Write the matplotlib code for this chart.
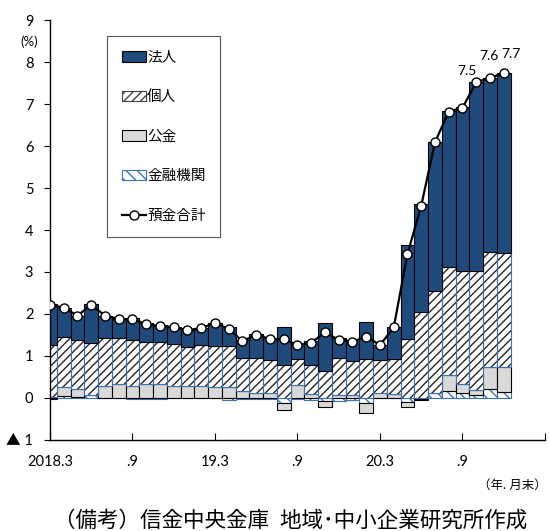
import numpy as np
import matplotlib.pyplot as plt
from matplotlib.patches import Patch
from matplotlib.lines import Line2D

plt.rcParams['font.family'] = ['Lato', 'Noto Sans CJK JP', 'DejaVu Sans']
plt.rcParams['hatch.linewidth'] = 1.0

# monthly, 2018.3 - 2020.12 (percent, contribution to deposit growth)
fin = [0.02, 0.05, 0.02, 0.08, 0.00, 0.00, -0.02, -0.02, -0.02, 0.00, 0.00, 0.00,
       0.00, -0.05, -0.03, -0.02, -0.03, -0.12, -0.02, -0.04, -0.08, -0.06, -0.05, -0.13,
       0.00, 0.00, -0.09, -0.03, 0.11, 0.17, 0.13, 0.07, 0.22, 0.15]
pub = [-0.03, 0.20, 0.20, 0.00, 0.29, 0.33, 0.29, 0.33, 0.33, 0.29, 0.29, 0.29,
       0.27, 0.25, 0.16, 0.13, 0.13, -0.17, 0.32, 0.09, -0.13, 0.08, 0.06, -0.23,
       0.11, 0.10, -0.12, -0.02, 0.01, 0.37, 0.20, 0.13, 0.52, 0.58]
ind = [1.25, 1.20, 1.16, 1.23, 1.15, 1.09, 1.09, 1.00, 1.01, 0.99, 0.92, 0.97,
       0.97, 0.99, 0.80, 0.82, 0.77, 0.79, 0.62, 0.70, 0.64, 0.88, 0.83, 0.94,
       0.79, 0.84, 1.40, 2.05, 2.43, 2.57, 2.69, 2.82, 2.74, 2.72]
corp = [0.97, 0.70, 0.58, 0.92, 0.52, 0.46, 0.52, 0.45, 0.39, 0.41, 0.40, 0.41,
        0.55, 0.46, 0.42, 0.58, 0.52, 0.90, 0.34, 0.56, 1.15, 0.48, 0.50, 0.88,
        0.36, 0.75, 2.24, 2.58, 3.55, 3.72, 3.91, 4.50, 4.15, 4.30]
total = [2.22, 2.15, 1.96, 2.22, 1.96, 1.88, 1.88, 1.76, 1.71, 1.69, 1.61, 1.67,
         1.78, 1.65, 1.35, 1.51, 1.40, 1.40, 1.26, 1.31, 1.57, 1.38, 1.34, 1.46,
         1.26, 1.68, 3.43, 4.58, 6.09, 6.82, 6.91, 7.52, 7.62, 7.74]

xlabels = ["2018.3", ".9", "19.3", ".9", "20.3", ".9", ""]
ylabels = ["▲ 1", "0", "1", "2", "3", "4", "5", "6", "7", "8", "9"]
names = ["法人", "個人", "公金", "金融機関", "預金合計"]

navy = '#1f4a7c'
blue = '#3f72b5'

fig = plt.figure(figsize=(5.5, 5.31), dpi=100)
ax = fig.add_axes([0.0909, 0.1714, 0.9, 0.7909])

x = np.arange(len(total))
pos_base = np.zeros(len(x))
neg_base = np.zeros(len(x))


def stack(vals, **kw):
    # positive parts stack upward from 0, negative parts downward
    global pos_base, neg_base
    vals = np.array(vals)
    bottoms = np.where(vals >= 0, pos_base, neg_base)
    ax.bar(x, vals, bottom=bottoms, width=1.0, zorder=2, **kw)
    pos_base = pos_base + np.where(vals >= 0, vals, 0)
    neg_base = neg_base + np.where(vals < 0, vals, 0)
    return bottoms


stack(fin, color='white', edgecolor=blue, hatch='\\\\\\', linewidth=0.8)
stack(pub, color='#d9d9d9', edgecolor='black', linewidth=0.8)
b = stack(ind, color='white', edgecolor='#262626', hatch='////', linewidth=0)
ax.bar(x, ind, bottom=b, width=1.0, fill=False, edgecolor=blue, linewidth=0.8, zorder=2)
stack(corp, color=navy, edgecolor='black', linewidth=0.8)

ax.plot(x, total, color='black', lw=1.6, marker='o', ms=6.5,
        mfc='white', mec='black', mew=1, zorder=4)

# labels for the last three months
offs = [(-6.5, 8), (-0.7, 16), (5, 13.5)]
for k, i in enumerate(x[-3:]):
    ax.annotate("{:.1f}".format(total[i]), (i, total[i]), xytext=offs[k],
                textcoords='offset points', ha='center', va='center', fontsize=10)

ax.set_xlim(0, 36)
ax.set_ylim(-1, 9)
ax.set_yticks(np.arange(-1, 10))
ax.set_yticklabels(ylabels, fontsize=10.5)
ax.tick_params(axis='y', direction='out', length=4, pad=8, width=0.8)
ax.set_xticks(np.arange(0, 37, 6))
ax.set_xticklabels(xlabels, fontsize=10.5)
ax.tick_params(axis='x', direction='in', length=5, width=0.8, pad=11)

ax.set_yticks(np.arange(0, 10), minor=True)
ax.yaxis.grid(True, which='minor', color='#8c8c8c', linewidth=1.0)
ax.yaxis.grid(False, which='major')
ax.set_axisbelow(True)
for s in ['top', 'right']:
    ax.spines[s].set_visible(False)
ax.spines['left'].set_linewidth(1.0)
ax.spines['bottom'].set_linewidth(1.0)
ax.tick_params(axis='y', which='minor', length=0)

handles = [Patch(facecolor=navy, edgecolor='black', linewidth=0.8),
           Patch(facecolor='white', edgecolor='#444444', hatch='////', linewidth=0.8),
           Patch(facecolor='#d9d9d9', edgecolor='black', linewidth=0.8),
           Patch(facecolor='white', edgecolor=blue, hatch='\\\\\\', linewidth=0.8),
           Line2D([], [], color='black', lw=1.6, marker='o', ms=6.5, mfc='white', mec='black')]
leg = ax.legend(handles, names, loc='upper left', bbox_to_anchor=(0.115, 0.962),
                fancybox=False, edgecolor='#555555', framealpha=1, fontsize=10.5,
                borderpad=1.0, labelspacing=1.75, handlelength=1.65,
                handletextpad=0.1, borderaxespad=0)
leg.get_frame().set_linewidth(0.8)

fig.text(29 / 550, 1 - 42 / 531, "(%)", ha='center', va='center', fontsize=9.5)
fig.text(547 / 550, 1 - 485 / 531, "（年. 月末）", ha='right', va='center', fontsize=9)
fig.text(291 / 550, 1 - 520 / 531, "（備考）信金中央金庫  地域･中小企業研究所作成",
         ha='center', va='center', fontsize=15.5)

fig.savefig("out.png", dpi=100)
